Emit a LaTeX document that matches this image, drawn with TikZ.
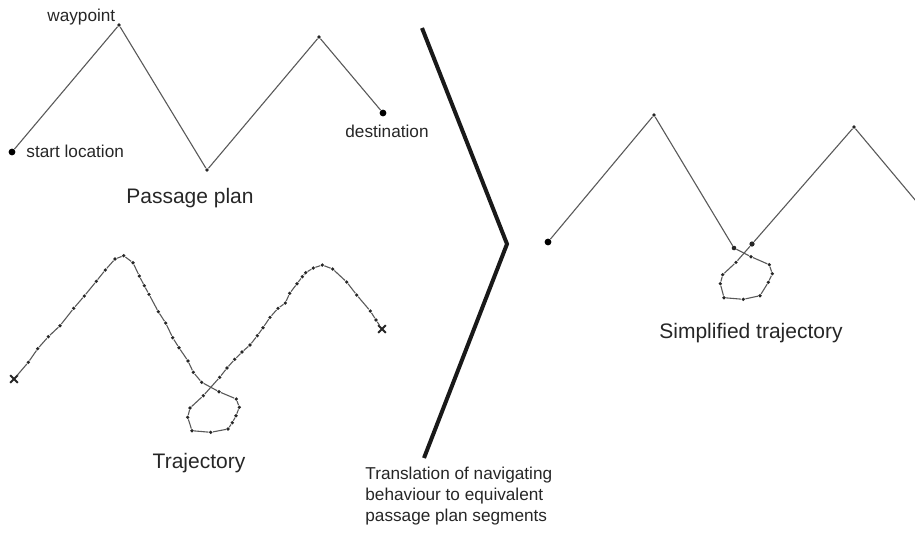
\documentclass[tikz,border=0pt]{standalone}
\usepackage{fontspec}
\setmainfont{Liberation Sans}
\usetikzlibrary{shapes.misc}

\begin{document}
\begin{tikzpicture}[x=0.5pt, y=-0.5pt,
  track/.style={draw=black!65, line width=0.55pt},
  fix/.style={circle, fill=black!85, inner sep=0pt, minimum size=1.8pt},
  endfix/.style={circle, fill=black, inner sep=0pt, minimum size=3.4pt},
  endmark/.style={cross out, draw=black!85, line width=1pt, inner sep=0pt, minimum size=2.8pt},
  smalltext/.style={font=\fontsize{8.6}{10.3}\selectfont, text=black!85, inner sep=0pt},
  bigtext/.style={font=\fontsize{10.5}{12.5}\selectfont, text=black!85, inner sep=0pt}]
  \useasboundingbox (0,0) rectangle (915,532);

  % passage plan
  \node[endfix] (start) at (12,152) {};
  \node[fix] (wpa) at (119,25) {};
  \node[fix] (wpb) at (207,170) {};
  \node[fix] (wpc) at (319,37) {};
  \node[endfix] (dest) at (383,113) {};
  \draw[track] (start) -- (wpa) -- (wpb) -- (wpc) -- (dest);
  \node[smalltext, anchor=base west] (waytxt) at (47,21) {waypoint};
  \node[smalltext, anchor=base west] (starttxt) at (26,157) {start location};
  \node[smalltext, anchor=base west] (desttxt) at (345,137) {destination};
  \node[bigtext, anchor=base] (plantxt) at (190,203) {Passage plan};

  % recorded trajectory
  \node[endmark] (t0) at (14,379) {};
  \foreach \px/\py [count=\i] in {28.3/362.3, 37.7/348.7, 48.3/336.7, 60/325.7, 73.7/308.3,
      84.3/296, 96.3/281.3, 105.3/270, 115/259, 123.7/255.7, 133/262.7, 139.3/276,
      144.3/285.7, 149/294.3, 158.3/311.7, 165.7/323, 172.7/337.7, 179/347.7, 188/361,
      193.3/372.3, 201.7/382.3, 219/391.7, 236.3/399, 239.3/407.3, 236/415.7, 232.3/422.7,
      228/429, 210.7/432.3, 192/430.7, 187.7/417.3, 190/408, 203.3/395.7, 219.7/377.3,
      227/368, 234.7/359.3, 242/352, 250/345, 257.3/335.7, 263/327.7, 270/317.3, 278/308.3,
      285.3/303, 289.7/293.3, 297/283.7, 302.3/276.7, 305.7/272.7, 313.3/268, 322.3/265,
      332.7/269, 346.7/282, 356.7/295, 370.3/311, 376/320}
    \node[fix] (t\i) at (\px,\py) {};
  \node[endmark] (t54) at (382,329) {};
  \foreach \i [count=\j from 1] in {0,...,53}
    \draw[track] (t\i) -- (t\j);
  \node[bigtext, anchor=base] (trajtxt) at (199,468) {Trajectory};

  % translation
  \coordinate (chevtop) at (422,28);
  \coordinate (chevtip) at (507,244);
  \coordinate (chevbot) at (424,458);
  \draw[line width=2pt, draw=black!90] (chevtop) -- (chevtip) -- (chevbot);
  \node[smalltext, anchor=north west, align=left] (transtxt) at (365,467)
    {Translation of navigating\\behaviour to equivalent\\passage plan segments};

  % simplified trajectory
  \node[endfix] (sstart) at (548,242) {};
  \node[fix] (swpa) at (654,115) {};
  \node[fix, minimum size=2.3pt] (s0) at (734,248) {};
  \foreach \px/\py [count=\i] in {751/256.7, 769.3/264.7, 772.3/273.7, 768.3/282.3,
      760/295.7, 743.3/299.3, 724/297.7, 720.3/283.7, 722.7/274.7, 736/262.3}
    \node[fix] (s\i) at (\px,\py) {};
  \node[fix, minimum size=2.6pt] (s11) at (752,244) {};
  \node[fix] (swpb) at (854,127) {};
  \coordinate (sout) at (916,201);
  \draw[track] (sstart) -- (swpa) -- (s0);
  \foreach \i [count=\j from 1] in {0,...,10}
    \draw[track] (s\i) -- (s\j);
  \draw[track] (s11) -- (swpb) -- (sout);
  \node[bigtext, anchor=base] (simptxt) at (751,338) {Simplified trajectory};
\end{tikzpicture}
\end{document}
